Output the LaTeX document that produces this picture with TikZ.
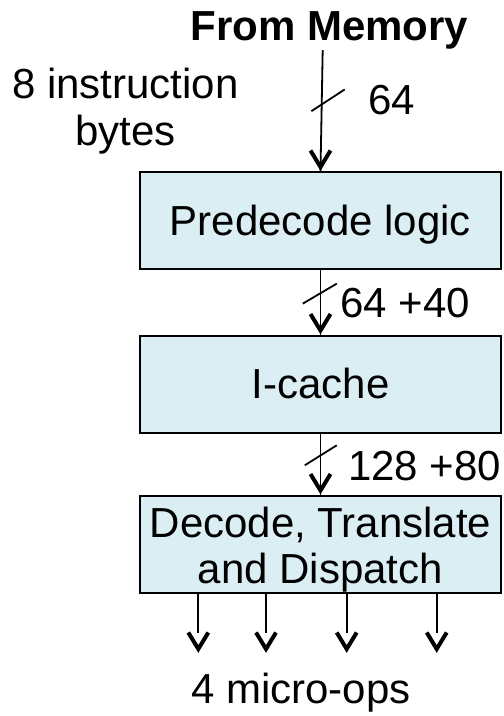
\documentclass[tikz,border=0pt]{standalone}
\usepackage{fontspec}
\setmainfont{Liberation Sans}
\usetikzlibrary{calc}
\definecolor{boxfill}{HTML}{DAEEF3}
\begin{document}
\begin{tikzpicture}[x=1pt,y=-1pt,
  every node/.style={inner sep=0pt, font=\fontsize{42}{47}\selectfont},
  unit/.style={draw=black, line width=2pt, fill=boxfill,
    minimum width=361.5pt, minimum height=97pt,
    text height=38pt, text depth=9pt, align=center},
  conn/.style={line width=1.8pt},
  busmark/.style={line width=1.8pt},
  % open V head; the origin is the outer point of the tip
  pics/vhead/.style={code={
    \draw[line width=4pt, line join=miter]
      (-10,-20.5) -- (0,-4) -- (10,-20.5);}},
]
\useasboundingbox (0,0) rectangle (504,716);

% captions
\node[anchor=base, font=\bfseries\fontsize{42}{47}\selectfont] (mem) at (329.5,40) {From Memory};
\node[anchor=base, align=center] (bytes) at (125.5,145) {8 instruction\\bytes};

% pipeline stages
\node[unit] (pre) at (320.5,220.5) {Predecode logic};
\node[unit] (icache) at (320.5,384) {I-cache};
\node[unit, text height=87pt, font=\fontsize{42}{46}\selectfont] (dec) at (320.5,544)
  {Decode, Translate\\and Dispatch};

% buses between stages, each with a width mark
\coordinate (in) at (322.7,50);
\draw[conn] (in) -- coordinate[pos=0.45] (s1) (pre.north);
\pic at (pre.north) {vhead};
\draw[busmark] ($(s1)+(-10.3,6.7)$) -- ($(s1)+(23,-15)$);
\draw[conn] (pre.south) -- coordinate[pos=0.36] (s2) (icache.north);
\pic at (icache.north) {vhead};
\draw[busmark] ($(s2)+(-17.7,10.4)$) -- ($(s2)+(16.3,-9.6)$);
\draw[conn] (icache.south) -- coordinate[pos=0.36] (s3) (dec.north);
\pic at (dec.north) {vhead};
\draw[busmark] ($(s3)+(-15.7,9.8)$) -- ($(s3)+(16.3,-10.2)$);

% bus widths
\node[anchor=base west] (w1) at (368,114) {64};
\node[anchor=base west] (w2) at (340,317) {64 +40};
\node[anchor=base west] (w3) at (348,480) {128 +80};

% four micro-op outputs
\foreach \x/\n in {198.3/o1, 266/o2, 346.7/o3, 436.7/o4} {
  \coordinate (\n) at (\x,653);
  \coordinate (\n t) at (\x,633);
  \draw[conn] (dec.south -| \n) -- (\n t);
  \pic at (\n) {vhead};
}
\node[anchor=base] (uops) at (301,703) {4 micro-ops};
\end{tikzpicture}
\end{document}
